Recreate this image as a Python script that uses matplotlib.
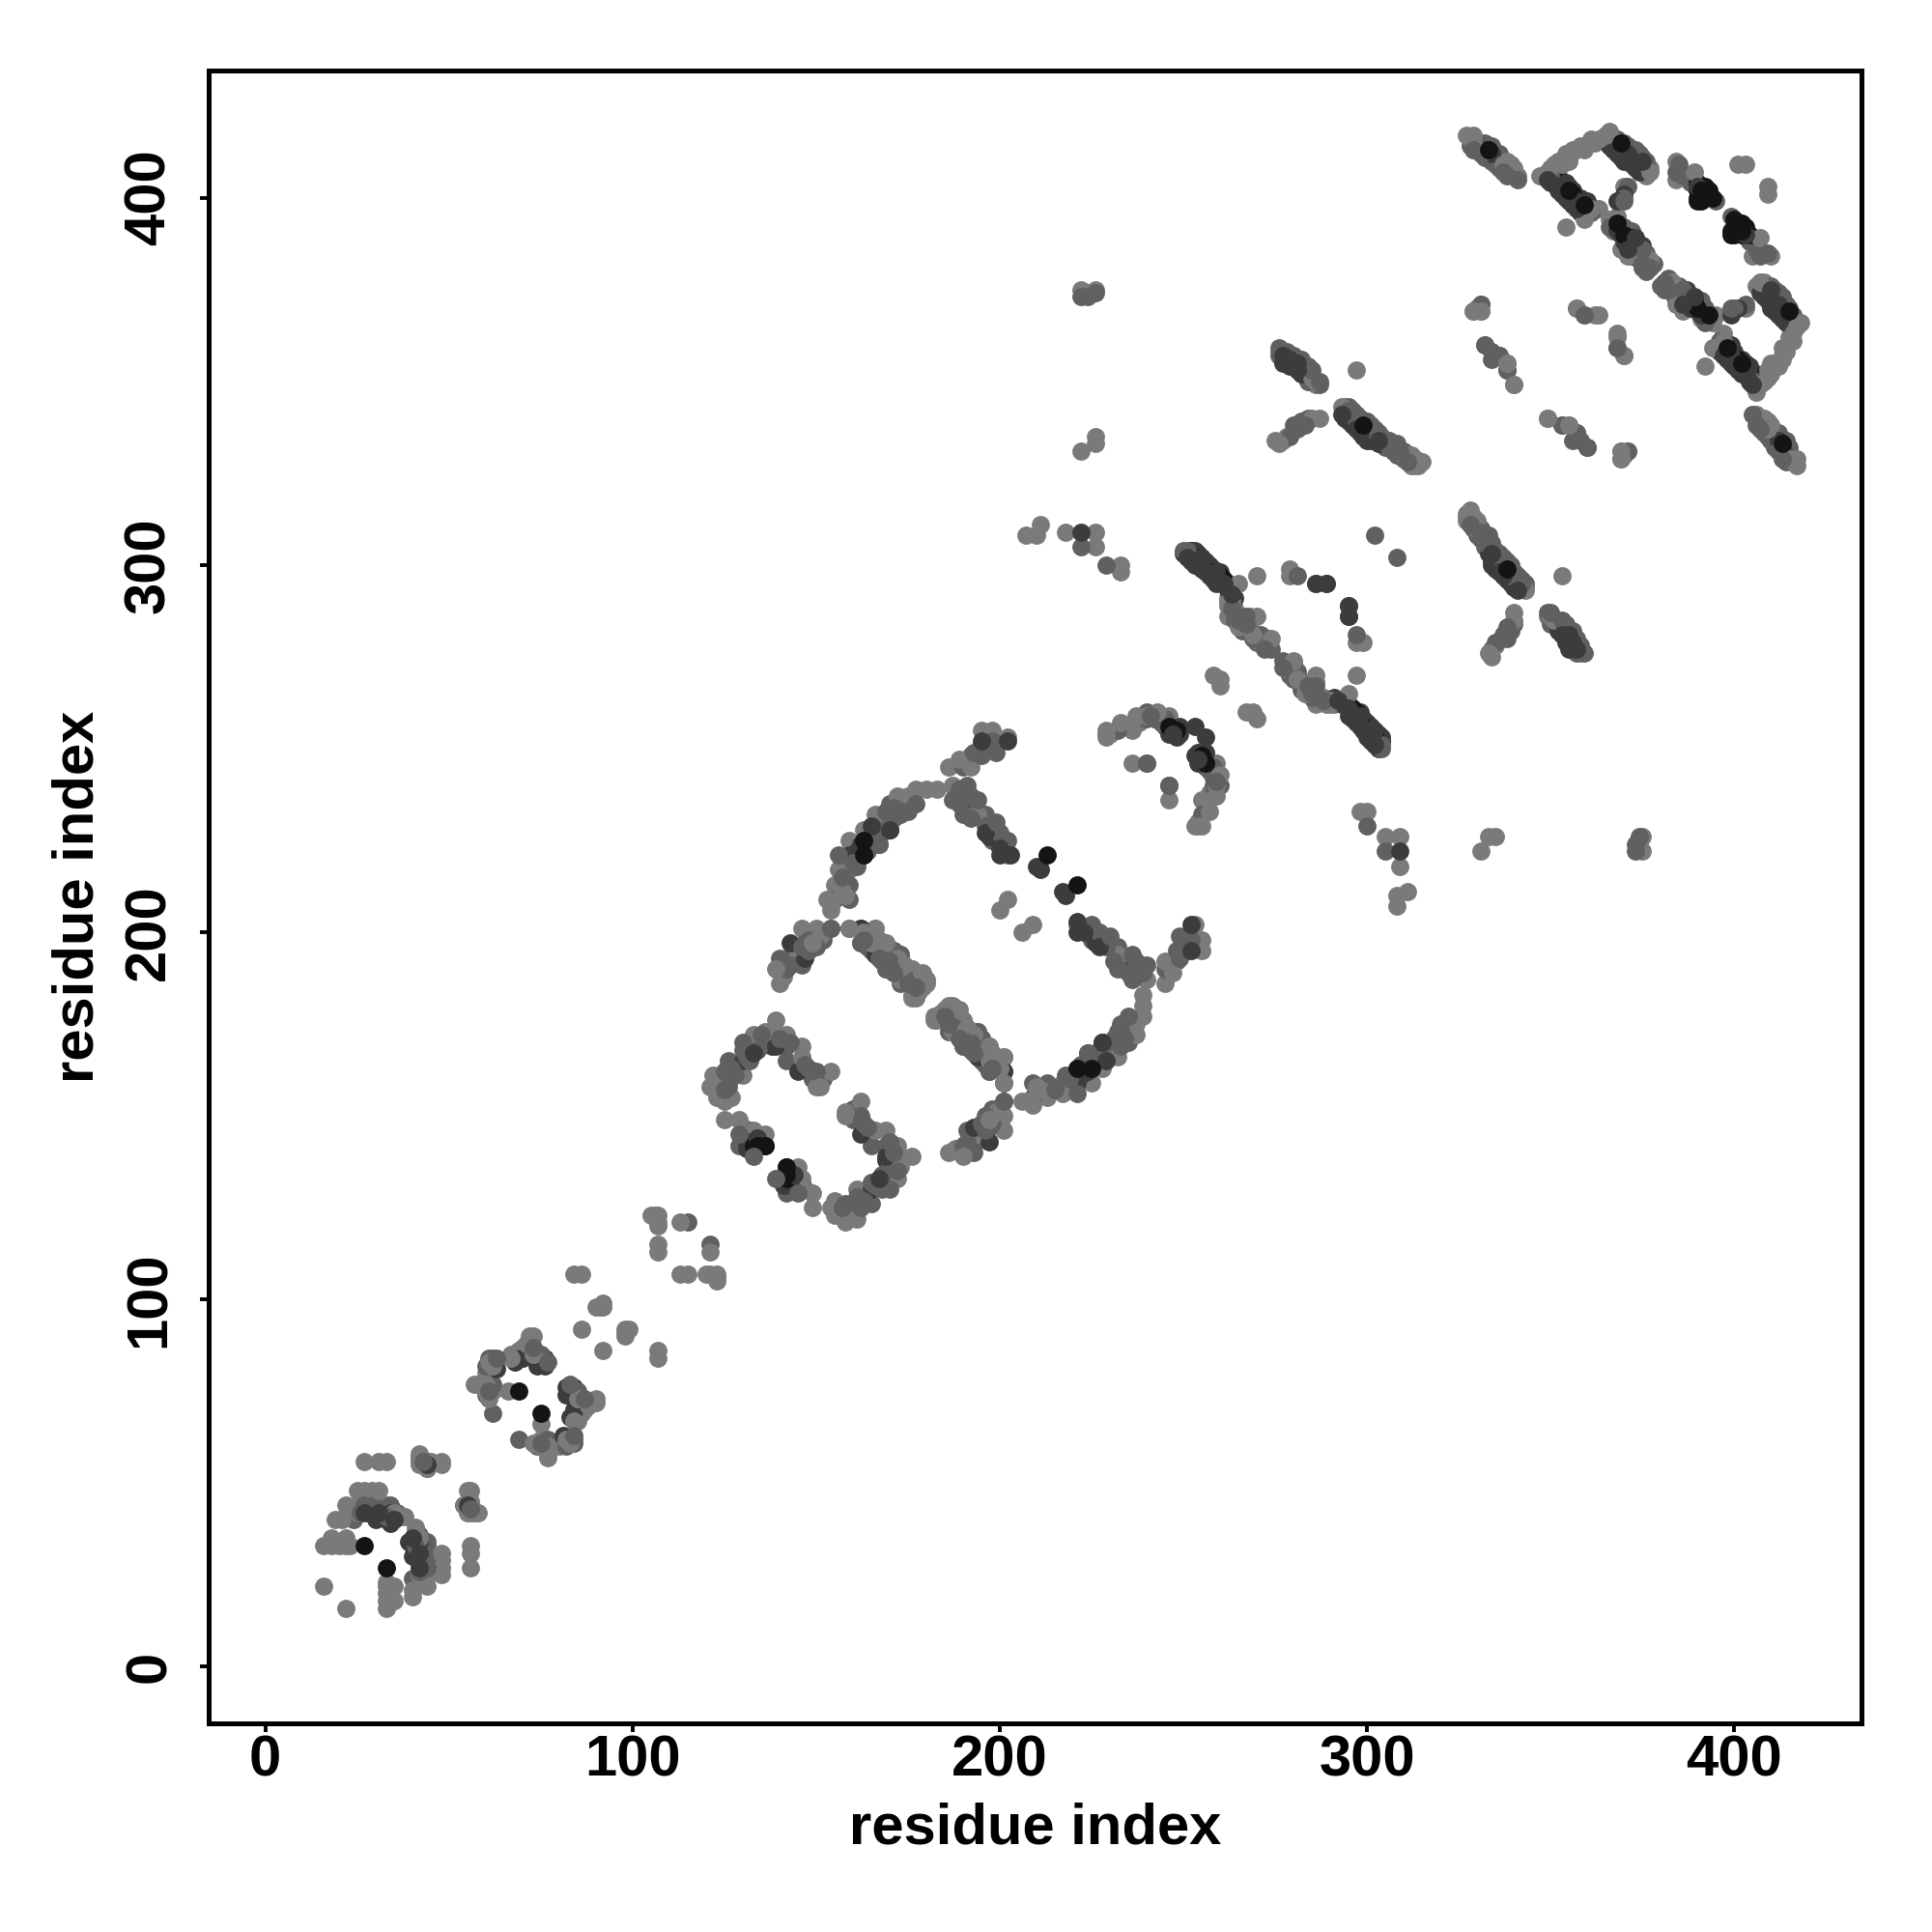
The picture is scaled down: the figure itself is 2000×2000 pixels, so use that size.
import matplotlib
matplotlib.use('Agg')
import matplotlib.pyplot as plt

# contacts (i, j) above the diagonal, grouped by grey level; the map is symmetric
light = [
    (16,22),(16,33),(18,33),(18,35),(20,33),(22,33),(22,35),(23,33),(19,40),(21,40),(22,41),(22,44),
    (25,48),(27,48),(29,48),(31,48),(26,46),(28,46),(27,56),(31,56),(33,56),(35,42),(26,44),
    (42,58),(42,55),(42,56),(45,56),(48,55),(48,56),(54,44),
    (57,77),(58,77),(60,77),(60,75),(61,73),(62,75),(66,75),(72,90),(73,90),(69,86),(67,84),(70,87),(67,85),(71,88),(60,80),
    (84,107),(86,107),(86,92),(91,98),(92,98),(92,99),(90,98),
    (107,113),(107,115),(113,121),(105,123),(106,123),(107,123),(107,121),(107,120),
    (140,186),(139,190),(146,201),(150,201),(154,201),(166,201),(169,197),(165,197),(173,190),(176,190),(173,187),(176,187),(180,187),(176,182),
    (182,177),(186,180),(186,177),(190,176),(194,173),(197,169),(201,166),(201,159),
    (125,154),(121,158),(122,161),(125,149),(129,149),(133,146),(136,145),(139,176),(139,173),(142,172),(146,169),(146,166),(150,158),(151,158),(154,162),(133,172),(122,158),(130,161),
    (200,206),(202,209),(154,206),(153,209),(155,213),(156,217),(159,217),(159,225),(163,228),(166,232),(173,236),(177,239),(180,239),(183,239),(187,240),(194,232),(202,221),
    (207,308),(210,308),(211,311),(218,309),(226,309),(226,305),(233,298),(233,300),
    (258,270),(260,269),(260,267),(265,295),(270,297),(279,299),(279,297),(262,290),(262,286),(265,283),(268,286),(270,286),(269,281),(271,279),(273,280),(272,278),(262,289),(262,291),(270,281),
    (229,253),(229,255),(236,246),(236,255),(237,259),(243,260),(229,254),(233,257),(240,259),(246,259),
    (226,333),(222,331),(226,335),(222,375),(226,375),(224,374),
    (293,343),(294,343),(297,353),(310,330),(311,330),(312,329),(313,328),(314,328),(315,328),(313,327),(286,350),(285,351),(286,349),(284,352),
    (275,334),(287,340),(278,335),(276,358),
    (327,417),(328,416),(329,415),(333,412),(338,408),(340,408),(340,407),(337,409),
    (329,369),(331,369),(338,355),(340,349),(349,340),(355,338),(369,331),(371,331),(369,329),(362,368),(357,370),
    (368,363),(368,359),(370,357),(347,406),(348,406),(353,409),(355,411),(357,413),(359,413),(363,416),(366,418),(363,397),(361,397),(354,392),(359,394),
    (366,416),(376,408),(366,394),(368,395),(374,387),(369,386),(371,384),(377,383),(375,383),(367,391),(368,394),(370,403),
    (384,410),(384,405),(389,407),(389,404),(401,409),(403,409),(341,406),(355,410),
    (186,245),(189,247),(196,254),(202,253),(198,255),(195,255),(192,245),
    (350,408),(352,410),(354,412),(356,413),(358,414),(361,416),(362,415),(351,409),(349,407),(353,410),
    (141,188),(145,194),(149,197),(151,199),(168,197),(172,193),(174,191),(177,188),(178,187),(178,184),(179,189),
    (185,179),(183,176),(188,177),(191,174),(193,172),(195,171),(198,167),(199,165),(200,163),
    (312,327),(314,327),(312,330),(313,329),(329,417),(331,415),(338,410),(339,409),(340,406),(377,408),(376,406),(365,417),(377,407),
    (124,160),(123,155),(127,155),(136,173),(154,208),(158,210),(156,212),(157,211),(175,237),(172,237),
    (230,254),(234,256),(238,257),(263,290),(264,288),(266,284),(272,280),(274,280),(277,334),(276,333),(285,340),
    (62,82),(61,83),(73,85),(25,42),(33,44),(37,41),(38,41),
]
mid = [
    (24,40),(26,42),(27,44),(29,46),(30,44),(31,43),(32,42),(33,41),(34,44),(36,42),(28,42),
    (43,56),(44,56),(44,54),(42,57),
    (62,69),(62,84),(60,82),(77,83),(75,85),(62,77),(73,87),(61,84),(69,84),(72,86),
    (115,121),
    (142,190),(140,193),(142,193),(146,196),(150,196),(159,201),(162,197),(166,194),(169,194),(173,194),(169,190),
    (190,169),(194,167),(197,162),(190,173),(186,173),(201,154),
    (126,158),(125,162),(126,165),(130,168),(134,168),(132,165),(135,172),(142,169),(142,165),(150,162),(129,145),(129,142),(133,139),
    (155,209),(159,209),(159,213),(156,221),(167,224),(166,228),(173,232),(170,235),(177,235),(187,236),(190,232),(191,240),(194,236),(198,225),(202,225),
    (222,305),(229,300),(286,295),(295,289),(281,297),(250,304),(251,304),
    (233,256),(236,256),(240,258),(240,246),(245,258),(246,240),(240,260),
    (224,373),(222,373),(226,374),
    (295,342),(296,341),(302,308),(297,339),(300,337),(303,335),(306,333),(307,332),(308,332),(309,331),(283,353),(282,354),(280,355),(276,359),(280,338),(282,339),(284,340),
    (330,414),(331,371),(330,370),(332,360),(334,358),(336,357),(338,353),(353,338),(357,336),(356,334),(360,332),(359,368),
    (350,406),(361,396),(370,400),(370,392),(376,409),(384,407),(330,415),(336,410),(335,411),(355,401),(377,381),(375,381),
    (399,370),(403,371),(341,405),
    (190,245),(192,248),(193,249),(195,251),(198,252),(199,249),(195,248),(195,249),
    (295,343),(296,342),(297,341),(298,340),(300,339),(301,338),(302,337),(303,336),(304,335),(306,334),(308,333),(310,331),
    (305,332),(306,332),(307,331),(308,330),(309,330),(310,329),(311,328),
    (278,358),(280,357),(282,356),(284,354),(285,353),(287,350),(287,349),(276,357),(284,350),
    (331,412),(332,411),(334,410),(335,409),(336,408),(338,406),(332,415),(334,414),(336,412),(337,407),(328,414),(329,413),
    (368,416),(370,415),(371,414),(373,413),(374,412),(375,411),(376,410),
    (366,392),(367,393),(369,392),(371,391),(373,388),(375,386),(376,385),(378,382),(372,391),(373,384),(374,383),(375,382),(376,380),
    (385,409),(386,406),(388,405),(388,404),(395,399),
    (127,163),(128,161),(125,157),(130,170),(131,166),(138,171),(140,171),(143,170),(147,164),(148,163),(149,160),(152,160),(137,170),
    (130,147),(132,146),(146,191),(143,191),(148,195),(144,196),(148,198),(152,198),(147,197),
    (163,198),(164,196),(166,196),(167,195),(168,193),(170,192),(171,191),(172,189),(174,188),(175,186),(177,185),(171,195),
    (184,178),(185,176),(187,175),(188,173),(189,171),(191,170),(192,168),(193,167),(195,165),(196,164),(196,168),
    (158,214),(157,215),(161,218),(160,219),(164,222),(165,224),(167,227),(168,227),(169,230),(171,231),(173,233),(175,233),(171,234),(168,230),(169,233),
    (188,238),(189,235),(192,231),(192,234),(196,229),(196,232),(199,230),(200,227),(189,239),(192,237),
    (232,255),(239,259),(241,259),(242,258),(244,257),(245,256),
    (264,285),(267,284),(267,286),(268,282),(269,280),(270,279),(271,281),(273,278),(274,277),(266,282),(272,277),(263,288),(265,285),
    (279,335),(281,337),(283,338),(60,74),(61,75),(63,84),(71,85),(74,84),(28,44),(29,43),
]
dark = [
    (27,42),(30,40),(34,39),(33,40),(35,40),(34,42),(44,55),
    (68,83),(70,84),(74,82),(76,82),(75,83),(63,81),(70,85),(76,84),
    (143,197),(147,193),(162,201),(194,166),(201,162),(138,169),(139,169),(145,162),(130,165),(133,167),
    (221,203),(229,198),(236,190),(228,166),(224,167),(170,228),(163,221),(159,221),(210,218),(217,211),
    (222,309),(289,295),(295,286),(249,256),(251,303),(252,303),(253,302),(254,301),(255,300),(256,299),(257,298),(258,297),(259,296),(261,295),
    (262,293),(263,292),(264,291),(297,338),(298,338),(299,337),(301,336),(302,335),(303,334),(304,334),(280,356),(279,356),(277,357),(278,357),(281,355),
    (332,413),(334,412),(352,404),(353,403),(354,402),(356,400),(357,399),(358,398),(367,415),(368,414),(369,414),(371,412),(373,410),(374,410),(375,409),
    (375,410),(368,399),(370,389),(371,386),(387,375),(389,373),(403,390),(390,403),(384,372),(401,370),
    (195,252),(253,256),(202,252),
    (250,303),(251,302),(252,301),(253,300),(254,300),(255,299),(256,298),(257,297),(258,296),(259,295),(253,304),(254,303),(255,302),(256,301),(257,300),(258,299),(259,298),(260,298),
    (293,341),(294,340),(295,339),(296,338),(297,337),(298,336),(299,335),(300,334),(301,334),(303,333),
    (277,355),(279,354),(281,353),(282,352),(277,356),
    (351,405),(352,402),(353,401),(354,400),(355,399),(356,398),(357,397),(358,396),(352,406),(354,404),(355,403),(356,402),(358,400),(359,399),(360,399),(350,404),(349,405),
    (366,414),(367,413),(368,412),(369,411),(370,410),(371,410),(372,409),(373,408),(374,407),
    (368,391),(369,390),(370,388),(371,387),(372,386),
    (131,143),(134,144),(135,143),(131,141),(162,224),(161,222),(164,226),(165,229),
    (196,227),(197,226),(200,223),(200,221),(246,254),(247,254),(248,254),(249,254),(248,253),(31,42),
]
black = [
    (27,33),(69,75),(136,142),(133,142),(134,142),(213,221),(260,297),(261,296),(259,297),(262,295),(258,298),
    (256,300),(254,302),(252,304),(248,255),(247,255),(246,256),(298,339),(299,338),(333,413),
    (353,404),(355,402),(356,401),(358,399),(359,398),(369,415),(370,414),(372,412),(374,411),(372,389),(368,393),(370,390),
    (392,402),(394,400),(393,401),(391,399),(390,400),(391,402),(392,400),(390,399),(391,401),(228,170),(225,163),(221,163),(232,170),
    (142,136),(390,402),(391,403),(392,403),(393,402),(390,404),
]

grey_levels = ['#7a7a7a', '#606060', '#3c3c3c', '#141414']
groups = [light, mid, dark, black]
ticks = [0, 100, 200, 300, 400]

plt.rcParams['font.family'] = 'Liberation Sans'
fig = plt.figure(figsize=(10, 10), dpi=200)
ax = fig.add_axes([216/2000, 1 - 1784/2000, 1711/2000, 1711/2000])

# four passes so that the greys overlap each other, not one level always on top
for step in range(4):
    for pairs, col in zip(groups, grey_levels):
        part = [p for p in pairs if (p[0] + 2 * p[1]) % 4 == step]
        xs = [p[0] for p in part] + [p[1] for p in part]
        ys = [p[1] for p in part] + [p[0] for p in part]
        ax.scatter(xs, ys, s=46, color=col, linewidths=0, zorder=3)

ax.set_xlim(-15.4, 434.6)
ax.set_ylim(-15.4, 434.6)
ax.set_xticks(ticks)
ax.set_yticks(ticks)
ax.tick_params(length=3.2, width=1.4, labelsize=21.5)
ax.tick_params(axis='x', pad=0.9)
ax.tick_params(axis='y', pad=8.8)
for t in ax.get_xticklabels():
    t.set_fontweight('bold')
for t in ax.get_yticklabels():
    t.set_fontweight('bold')
    t.set_rotation(90)
    t.set_va('center')
for s in ax.spines.values():
    s.set_linewidth(1.8)
ax.set_xlabel('residue index', fontsize=21.5, fontweight='bold', labelpad=5.5)
ax.set_ylabel('residue index', fontsize=21.5, fontweight='bold', labelpad=7)

fig.savefig('out.png', dpi=200)
